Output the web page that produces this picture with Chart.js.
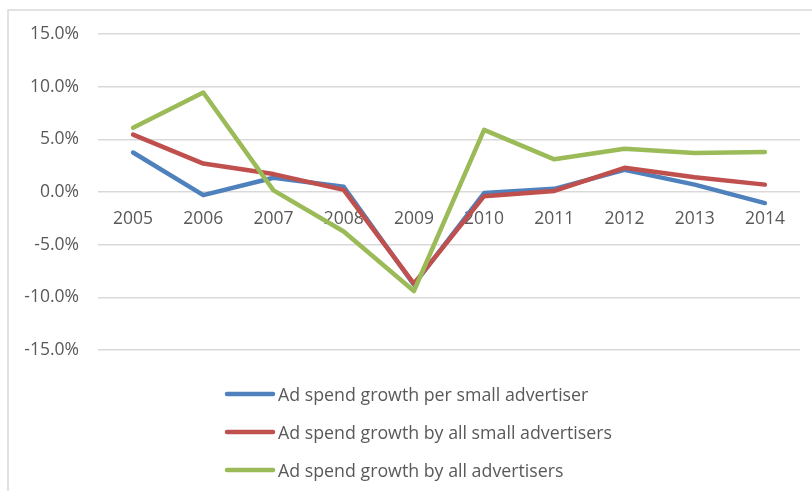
<!DOCTYPE html>
<html>
<head>
<meta charset="utf-8">
<script src="https://cdn.jsdelivr.net/npm/chart.js@4.4.1/dist/chart.umd.min.js"></script>
<style>
  html, body { margin: 0; padding: 0; background: #fff; }
  #wrap { width: 812px; height: 491px; }
</style>
</head>
<body>
<div id="wrap"><canvas id="growthChart" width="812" height="491"></canvas></div>
<script>
// values, in percent
const years = ['2005', '2006', '2007', '2008', '2009', '2010', '2011', '2012', '2013', '2014'];
const perSmallAdvertiser = [3.75, -0.3, 1.35, 0.5, -8.8, -0.1, 0.3, 2.1, 0.7, -1.05];
const allSmallAdvertisers = [5.45, 2.7, 1.7, 0.2, -8.7, -0.4, 0.1, 2.3, 1.4, 0.7];
const allAdvertisers = [6.1, 9.45, 0.15, -3.75, -9.4, 5.9, 3.1, 4.1, 3.7, 3.8];
const seriesNames = [
  'Ad spend growth per small advertiser',
  'Ad spend growth by all small advertisers',
  'Ad spend growth by all advertisers'
];

const textGray = '#595959';
const gridGray = '#d9d9d9';
const fontFamily = '"Open Sans", sans-serif';

// outer frame of the chart object (only top and left edges are visible)
const framePlugin = {
  id: 'frame',
  beforeDraw(chart) {
    const ctx = chart.ctx;
    ctx.save();
    ctx.strokeStyle = gridGray;
    ctx.lineWidth = 1.5;
    ctx.beginPath();
    ctx.moveTo(8, chart.height + 5);
    ctx.lineTo(8, 10);
    ctx.lineTo(chart.width + 5, 10);
    ctx.stroke();
    ctx.restore();
  }
};

// vertical legend under the plot, like the Excel one
const stackedLegend = {
  id: 'stackedLegend',
  afterDraw(chart) {
    const ctx = chart.ctx;
    const x0 = 227, x1 = 273, rows = [394, 432, 470];
    ctx.save();
    ctx.font = '17.8px ' + fontFamily;
    ctx.textBaseline = 'middle';
    ctx.textAlign = 'left';
    chart.data.datasets.forEach((ds, i) => {
      ctx.strokeStyle = ds.borderColor;
      ctx.lineWidth = 4.5;
      ctx.lineCap = 'round';
      ctx.beginPath();
      ctx.moveTo(x0, rows[i]);
      ctx.lineTo(x1, rows[i]);
      ctx.stroke();
      ctx.fillStyle = textGray;
      ctx.fillText(ds.label, x1 + 5, rows[i] + 1.5);
    });
    ctx.restore();
  }
};

const ctx = document.getElementById('growthChart').getContext('2d');
new Chart(ctx, {
  type: 'line',
  data: {
    labels: years,
    datasets: [
      { label: seriesNames[0], data: perSmallAdvertiser, borderColor: '#4f81bd', order: 3 },
      { label: seriesNames[1], data: allSmallAdvertisers, borderColor: '#c0504d', order: 2 },
      { label: seriesNames[2], data: allAdvertisers, borderColor: '#9bbb59', order: 1 }
    ]
  },
  options: {
    responsive: false,
    animation: false,
    layout: { padding: { left: 0, right: 12, top: 34, bottom: 141 } },
    elements: {
      line: { borderWidth: 4.5, tension: 0, borderCapStyle: 'round', borderJoinStyle: 'round', fill: false },
      point: { radius: 0, hoverRadius: 0 }
    },
    plugins: {
      legend: { display: false },
      tooltip: { enabled: false }
    },
    scales: {
      x: {
        position: { y: 0 },
        offset: true,
        grid: { display: false, drawTicks: false },
        border: { display: false },
        ticks: {
          color: textGray,
          font: { family: fontFamily, size: 17.5 },
          padding: 17,
          maxRotation: 0,
          autoSkip: false
        }
      },
      y: {
        min: -15,
        max: 15,
        afterFit(scale) { scale.width = 98; },
        grid: { color: gridGray, lineWidth: 1.5, drawTicks: false },
        border: { display: false },
        ticks: {
          stepSize: 5,
          color: textGray,
          font: { family: fontFamily, size: 17.5 },
          padding: 19,
          callback: v => v.toFixed(1) + '%'
        }
      }
    }
  },
  plugins: [framePlugin, stackedLegend]
});
</script>
</body>
</html>
